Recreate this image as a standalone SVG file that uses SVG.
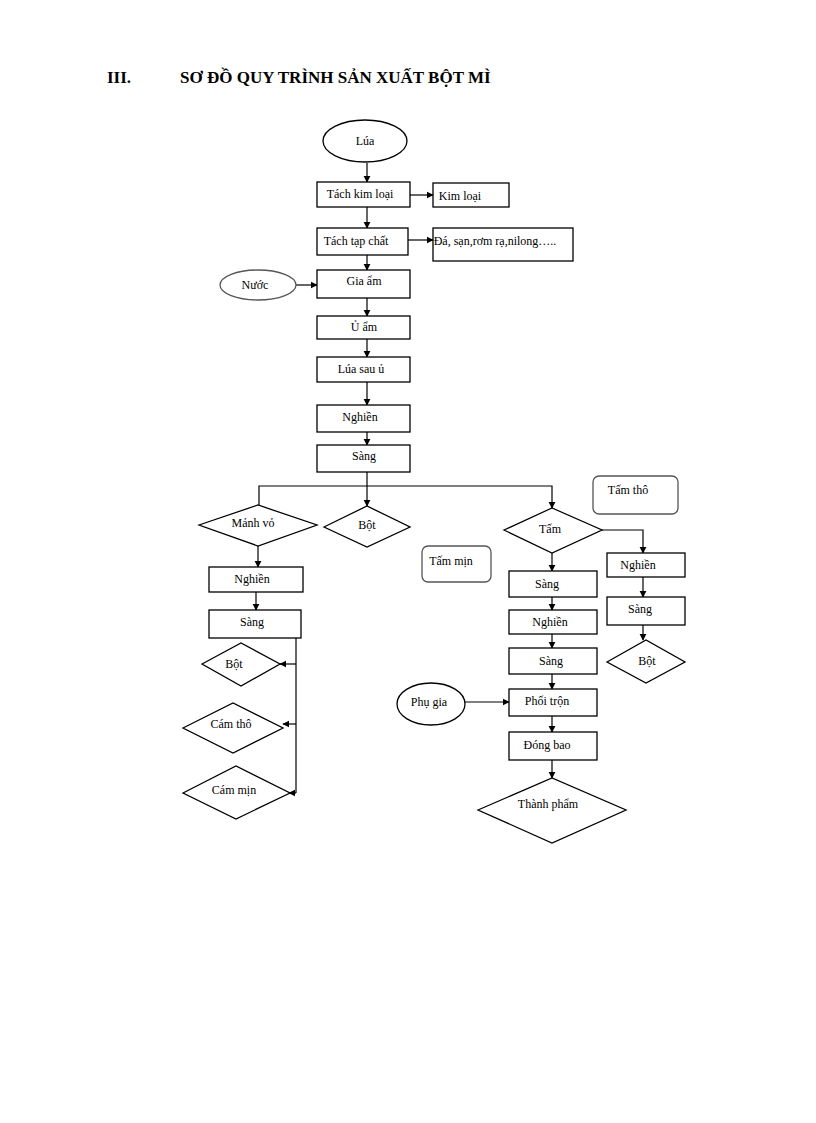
<svg xmlns="http://www.w3.org/2000/svg" width="816" height="1123" viewBox="0 0 816 1123">
<defs><marker id="a" viewBox="0 0 10 10" refX="9" refY="5" markerWidth="6" markerHeight="6" orient="auto"><path d="M0,0 L10,5 L0,10 z" fill="#000"/></marker></defs>
<style>
.s{fill:#fff;stroke:#000;stroke-width:1.3}
.r{fill:#fff;stroke:#555;stroke-width:1.3}
text{font-family:"Liberation Serif",serif;font-size:12px;text-anchor:middle}
.c line,.c polyline{stroke:#000;stroke-width:1.2;fill:none}
.h{font-size:17px;font-weight:bold;text-anchor:start}
</style>
<rect width="816" height="1123" fill="#fff"/>
<text class="h" x="107" y="83">III.</text>
<text class="h" x="180" y="83">SƠ ĐỒ QUY TRÌNH SẢN XUẤT BỘT MÌ</text>
<g class="c">
<line x1="367" y1="163" x2="367" y2="182" marker-end="url(#a)"/>
<line x1="410" y1="195" x2="433" y2="195" marker-end="url(#a)"/>
<line x1="367" y1="207" x2="367" y2="228" marker-end="url(#a)"/>
<line x1="408" y1="240" x2="433" y2="240" marker-end="url(#a)"/>
<line x1="367" y1="255" x2="367" y2="270" marker-end="url(#a)"/>
<line x1="296" y1="285" x2="317" y2="285" marker-end="url(#a)" stroke="#777"/>
<line x1="367" y1="298" x2="367" y2="316" marker-end="url(#a)"/>
<line x1="367" y1="339" x2="367" y2="357" marker-end="url(#a)"/>
<line x1="367" y1="382" x2="367" y2="405" marker-end="url(#a)"/>
<line x1="367" y1="432" x2="367" y2="445" marker-end="url(#a)"/>
<line x1="367" y1="472" x2="367" y2="506" marker-end="url(#a)"/>
<polyline points="259,505 259,486 552,486 552,508" marker-end="url(#a)"/>
<line x1="258" y1="546" x2="258" y2="567" marker-end="url(#a)"/>
<line x1="256" y1="592" x2="256" y2="610" marker-end="url(#a)"/>
<line x1="296" y1="638" x2="296" y2="793"/>
<line x1="296" y1="664" x2="280" y2="664" marker-end="url(#a)"/>
<line x1="296" y1="724" x2="283" y2="724" marker-end="url(#a)"/>
<line x1="296" y1="793" x2="289" y2="793" marker-end="url(#a)"/>
<line x1="552" y1="553" x2="552" y2="571" marker-end="url(#a)"/>
<polyline points="602,530 643,530 643,553" marker-end="url(#a)"/>
<line x1="643" y1="577" x2="643" y2="597" marker-end="url(#a)"/>
<line x1="643" y1="625" x2="643" y2="640" marker-end="url(#a)"/>
<line x1="552" y1="597" x2="552" y2="610" marker-end="url(#a)"/>
<line x1="552" y1="634" x2="552" y2="648" marker-end="url(#a)"/>
<line x1="552" y1="674" x2="552" y2="689" marker-end="url(#a)"/>
<line x1="465" y1="702" x2="509" y2="702" marker-end="url(#a)"/>
<line x1="552" y1="716" x2="552" y2="732" marker-end="url(#a)"/>
<line x1="552" y1="760" x2="552" y2="778" marker-end="url(#a)"/>
</g>
<g id="lua"><ellipse class="s" cx="365" cy="141" rx="42" ry="21"/><text x="365" y="145">Lúa</text></g>
<g id="tachkl"><rect class="s" x="317" y="182" width="93" height="25"/><text x="360" y="198">Tách kim loại</text></g>
<g id="kimloai"><rect class="s" x="433" y="183" width="76" height="24"/><text x="460" y="200">Kim loại</text></g>
<g id="tachtc"><rect class="s" x="317" y="228" width="91" height="27"/><text x="356" y="245">Tách tạp chất</text></g>
<g id="da"><rect class="s" x="433" y="228" width="140" height="33"/><text x="495" y="245">Đá, sạn,rơm  rạ,nilong…..</text></g>
<g id="nuoc"><ellipse class="r" cx="258" cy="285" rx="38" ry="15"/><text x="255" y="289">Nước</text></g>
<g id="giaam"><rect class="s" x="317" y="270" width="93" height="28"/><text x="364" y="285">Gia ẩm</text></g>
<g id="uam"><rect class="s" x="317" y="316" width="93" height="23"/><text x="364" y="331">Ủ ẩm</text></g>
<g id="luasau"><rect class="s" x="317" y="357" width="93" height="25"/><text x="361" y="373">Lúa sau ủ</text></g>
<g id="nghien1"><rect class="s" x="317" y="405" width="93" height="27"/><text x="360" y="421">Nghiền</text></g>
<g id="sang1"><rect class="s" x="317" y="445" width="93" height="27"/><text x="364" y="460">Sàng</text></g>
<g id="manhvo"><polygon class="s" points="199,525 258,505 317,525 258,546"/><text x="253" y="527">Mảnh vỏ</text></g>
<g id="bot1"><polygon class="s" points="324,527 367,506 410,527 367,547"/><text x="367" y="529">Bột</text></g>
<g id="tam"><polygon class="s" points="504,530 552,508 602,530 552,553"/><text x="550" y="533">Tấm</text></g>
<g id="tamtho"><rect class="r" x="593" y="476" width="85" height="38" rx="6"/><text x="628" y="494">Tấm thô</text></g>
<g id="tammin"><rect class="r" x="422" y="546" width="69" height="36" rx="6"/><text x="451" y="565">Tấm mịn</text></g>
<g id="nghien2"><rect class="s" x="209" y="567" width="94" height="25" stroke="#633"/><text x="252" y="583">Nghiền</text></g>
<g id="sang2"><rect class="s" x="209" y="610" width="92" height="28"/><text x="252" y="626">Sàng</text></g>
<g id="bot2"><polygon class="s" points="202,664 241,643 280,664 241,686"/><text x="234" y="668">Bột</text></g>
<g id="camtho"><polygon class="s" points="183,728 233,703 283,728 233,753"/><text x="231" y="728">Cám thô</text></g>
<g id="cammin"><polygon class="s" points="183,793 236,766 290,793 236,819"/><text x="234" y="794">Cám mịn</text></g>
<g id="sang3"><rect class="s" x="509" y="571" width="88" height="26"/><text x="547" y="588">Sàng</text></g>
<g id="nghien3"><rect class="s" x="509" y="610" width="88" height="24"/><text x="550" y="626">Nghiền</text></g>
<g id="sang4"><rect class="s" x="509" y="648" width="88" height="26"/><text x="551" y="665">Sàng</text></g>
<g id="phugia"><ellipse class="s" cx="431" cy="704" rx="34" ry="21"/><text x="429" y="706">Phụ gia</text></g>
<g id="phoitron"><rect class="s" x="509" y="689" width="88" height="27"/><text x="547" y="705">Phối trộn</text></g>
<g id="dongbao"><rect class="s" x="509" y="732" width="88" height="28"/><text x="547" y="749">Đóng bao</text></g>
<g id="thanhpham"><polygon class="s" points="478,810 552,778 626,810 552,843"/><text x="548" y="808">Thành phẩm</text></g>
<g id="nghien4"><rect class="s" x="607" y="553" width="78" height="24"/><text x="638" y="569">Nghiền</text></g>
<g id="sang5"><rect class="s" x="607" y="597" width="78" height="28"/><text x="640" y="613">Sàng</text></g>
<g id="bot3"><polygon class="s" points="607,662 646,640 685,662 646,683"/><text x="647" y="665">Bột</text></g>
</svg>
